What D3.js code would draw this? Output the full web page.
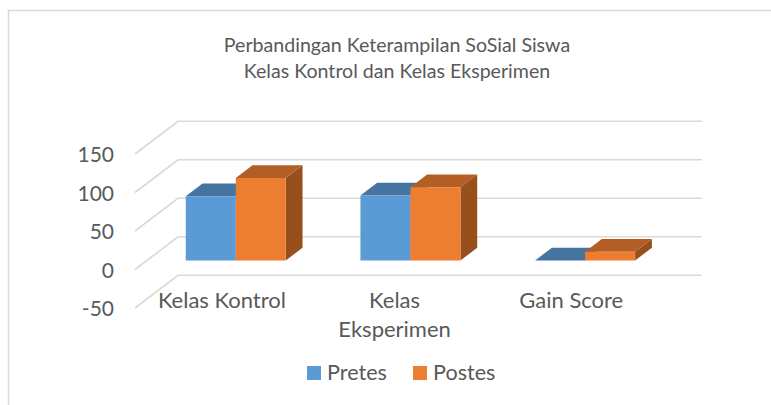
<!DOCTYPE html>
<html><head><meta charset="utf-8">
<script src="https://cdn.jsdelivr.net/npm/d3@7"></script>
<style>
html,body{margin:0;padding:0;background:#fff}
svg{display:block}
text{font-family:Lato,"Open Sans",sans-serif;fill:#595959}
</style></head><body>
<svg id="c" width="771" height="405"></svg>
<script>
const titleLines = ["Perbandingan Keterampilan SoSial Siswa", "Kelas Kontrol dan Kelas Eksperimen"];
const categories = ["Kelas Kontrol", "Kelas Eksperimen", "Gain Score"];
const categoryLines = [["Kelas Kontrol"], ["Kelas", "Eksperimen"], ["Gain Score"]];
const seriesNames = ["Pretes", "Postes"];
const pretes = [83.5, 84.5, 0];
const postes = [107, 95, 11.5];
const yTicks = [-50, 0, 50, 100, 150];
const faceColors = ["#5B9BD5", "#ED7D31"];
const topColors = ["#44749F", "#B35E24"];
const sideColors = ["#3F6D98", "#974F1C"];

const values = [pretes, postes];
const svg = d3.select("#c");
const W = 771, H = 405;
const depthX = 43, depthY = 32.7, barNear = 0.275, barFar = 0.665;

const y = d3.scaleLinear().domain([-50, 150]).range([308, 154]);
const x0 = d3.scaleBand().domain(categories).range([136.6, 660.6]).paddingInner(0.4275).paddingOuter(0.2137);
const x1 = d3.scaleBand().domain(seriesNames).range([0, x0.bandwidth()]);
const P = (x, v, d) => [x + d * depthX, y(v) - d * depthY];
const poly = pts => "M" + pts.map(p => p.join(",")).join("L") + "Z";

// frame
svg.append("path").attr("d", `M8.5,${H}V10.5H${W}`).attr("fill", "none").attr("stroke", "#D9D9D9").attr("stroke-width", 1.5);

// title
svg.append("g").selectAll("text").data(titleLines).join("text")
  .attr("x", 397).attr("y", (d, i) => 51.5 + i * 26.5)
  .attr("text-anchor", "middle").style("font-size", "19.6px").text(d => d);

// gridlines (floor + wall)
const grid = svg.append("g").attr("fill", "none").attr("stroke", "#D9D9D9").attr("stroke-width", 1.6);
yTicks.forEach(t => {
  const a = P(135, t, 0), b = P(135, t, 1), c = P(659, t, 1);
  grid.append("path").attr("d", "M" + [a, b, c].map(p => p.join(",")).join("L"));
});

// bars
const bars = svg.append("g");
categories.forEach((cat, ci) => {
  seriesNames.forEach((s, si) => {
    const v = values[si][ci];
    const xa = x0(cat) + x1(s), xb = xa + x1.bandwidth();
    const g = bars.append("g");
    g.append("path").attr("fill", sideColors[si]).attr("d", poly([
      P(xb, 0, barNear), P(xb, 0, barFar), P(xb, v, barFar), P(xb, v, barNear)]));
    g.append("path").attr("fill", topColors[si]).attr("d", poly([
      P(xa, v, barNear), P(xa, v, barFar), P(xb, v, barFar), P(xb, v, barNear)]));
    g.append("path").attr("fill", faceColors[si]).attr("d", poly([
      P(xa, 0, barNear), P(xa, v, barNear), P(xb, v, barNear), P(xb, 0, barNear)]));
  });
});

// y axis
const yAxis = svg.append("g").attr("transform", "translate(114,1)")
  .call(d3.axisLeft(y).tickValues(yTicks).tickSize(0).tickPadding(0).tickFormat(d => String(d)));
yAxis.select(".domain").remove();
yAxis.selectAll("text").style("font-size", "21px").style("font-family", "Lato").attr("fill", "#595959");

// category labels
const cg = svg.append("g");
categories.forEach((cat, i) => {
  categoryLines[i].forEach((line, j) => {
    cg.append("text").attr("x", x0(cat) + x0.bandwidth() / 2 - 2 + (i === 1 ? -2 : 0))
      .attr("y", 308 + j * 29).attr("text-anchor", "middle")
      .style("font-size", "22px").text(line);
  });
});

// legend
const legendX = [307, 413];
seriesNames.forEach((s, i) => {
  svg.append("rect").attr("x", legendX[i]).attr("y", 366).attr("width", 14).attr("height", 14).attr("fill", faceColors[i]);
  svg.append("text").attr("x", legendX[i] + 20).attr("y", 379.5).style("font-size", "21.6px").text(s);
});
</script>
</body></html>
